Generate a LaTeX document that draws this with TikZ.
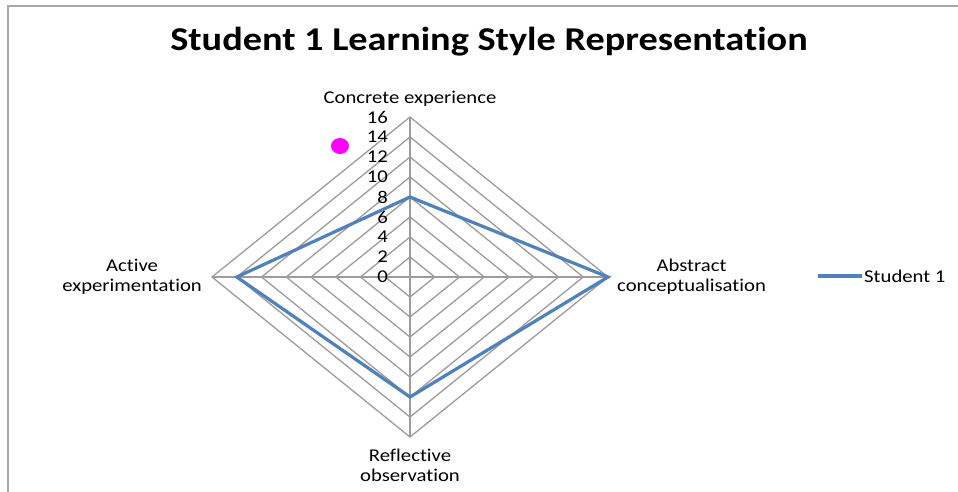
\documentclass[tikz,border=0pt]{standalone}
\usepackage{fontspec}
\setmainfont{Carlito}[FakeStretch=1.15, Ligatures=NoCommon]
\usetikzlibrary{positioning}
\definecolor{seriesblue}{HTML}{4F81BD}
\definecolor{gridgrey}{HTML}{9C9C9C}
\definecolor{framegrey}{HTML}{A8A8A8}
\definecolor{dotmagenta}{RGB}{255,0,255}
\tikzset{
  grid line/.style={draw=gridgrey, line width=1.3pt},
  series line/.style={draw=seriesblue, line width=3.2pt, line join=miter},
  axis label/.style={font=\fontsize{18}{20}\selectfont, align=center, inner sep=0pt},
  tick label/.style={font=\fontsize{18}{20}\selectfont, anchor=east, inner sep=0pt},
  chart title/.style={font=\fontsize{33.3}{36}\selectfont\bfseries, inner sep=0pt}
}

\begin{document}
\begin{tikzpicture}[x=1pt, y=-1pt]
            \useasboundingbox (0,0) rectangle (958,492);
            \fill [white] (0,0) rectangle (958,492);
            \draw [framegrey, line width=1.8pt] (8,492) -- (8,6) -- (958,6);

            \node [chart title, anchor=base] (title) at (489,51) {Student 1 Learning Style Representation};

            \begin{scope}[shift={(410,277)}, x=12.375pt, y=10pt]
                \coordinate (ce) at (0,16);
                \coordinate (ac) at (16,0);
                \coordinate (ro) at (0,-16);
                \coordinate (ae) at (-16,0);

                \foreach \r in {2,4,...,16} {
                    \draw [grid line] (0,\r) -- (\r,0) -- (0,-\r) -- (-\r,0) -- cycle;
                }
                \draw [grid line] (ce) -- (ro);
                \draw [grid line] (ae) -- (ac);

                \foreach \v in {0,2,...,16} {
                    \node [tick label] (tick\v) at (-1.78,\v) {\v};
                }

                \coordinate (s1) at (0,8);
                \coordinate (s2) at (16,0);
                \coordinate (s3) at (0,-12);
                \coordinate (s4) at (-14,0);
                \draw [series line] (s1) -- (s2) -- (s3) -- (s4) -- cycle;
            \end{scope}

            \node [axis label, above=13pt of ce, anchor=base] (lce) {Concrete experience};
            \node [axis label, right=9pt of ac] (lac) {Abstract\\conceptualisation};
            \node [axis label, below=12pt of ro] (lro) {Reflective\\observation};
            \node [axis label, left=10pt of ae] (lae) {Active\\experimentation};

            \fill [dotmagenta] (340,146) ellipse (9pt and 8pt);

            \coordinate (legA) at (818,276);
            \coordinate (legB) at (862,276);
            \draw [series line] (legA) -- (legB);
            \node [axis label, right=2pt of legB] (leg) {Student 1};
\end{tikzpicture}
\end{document}
